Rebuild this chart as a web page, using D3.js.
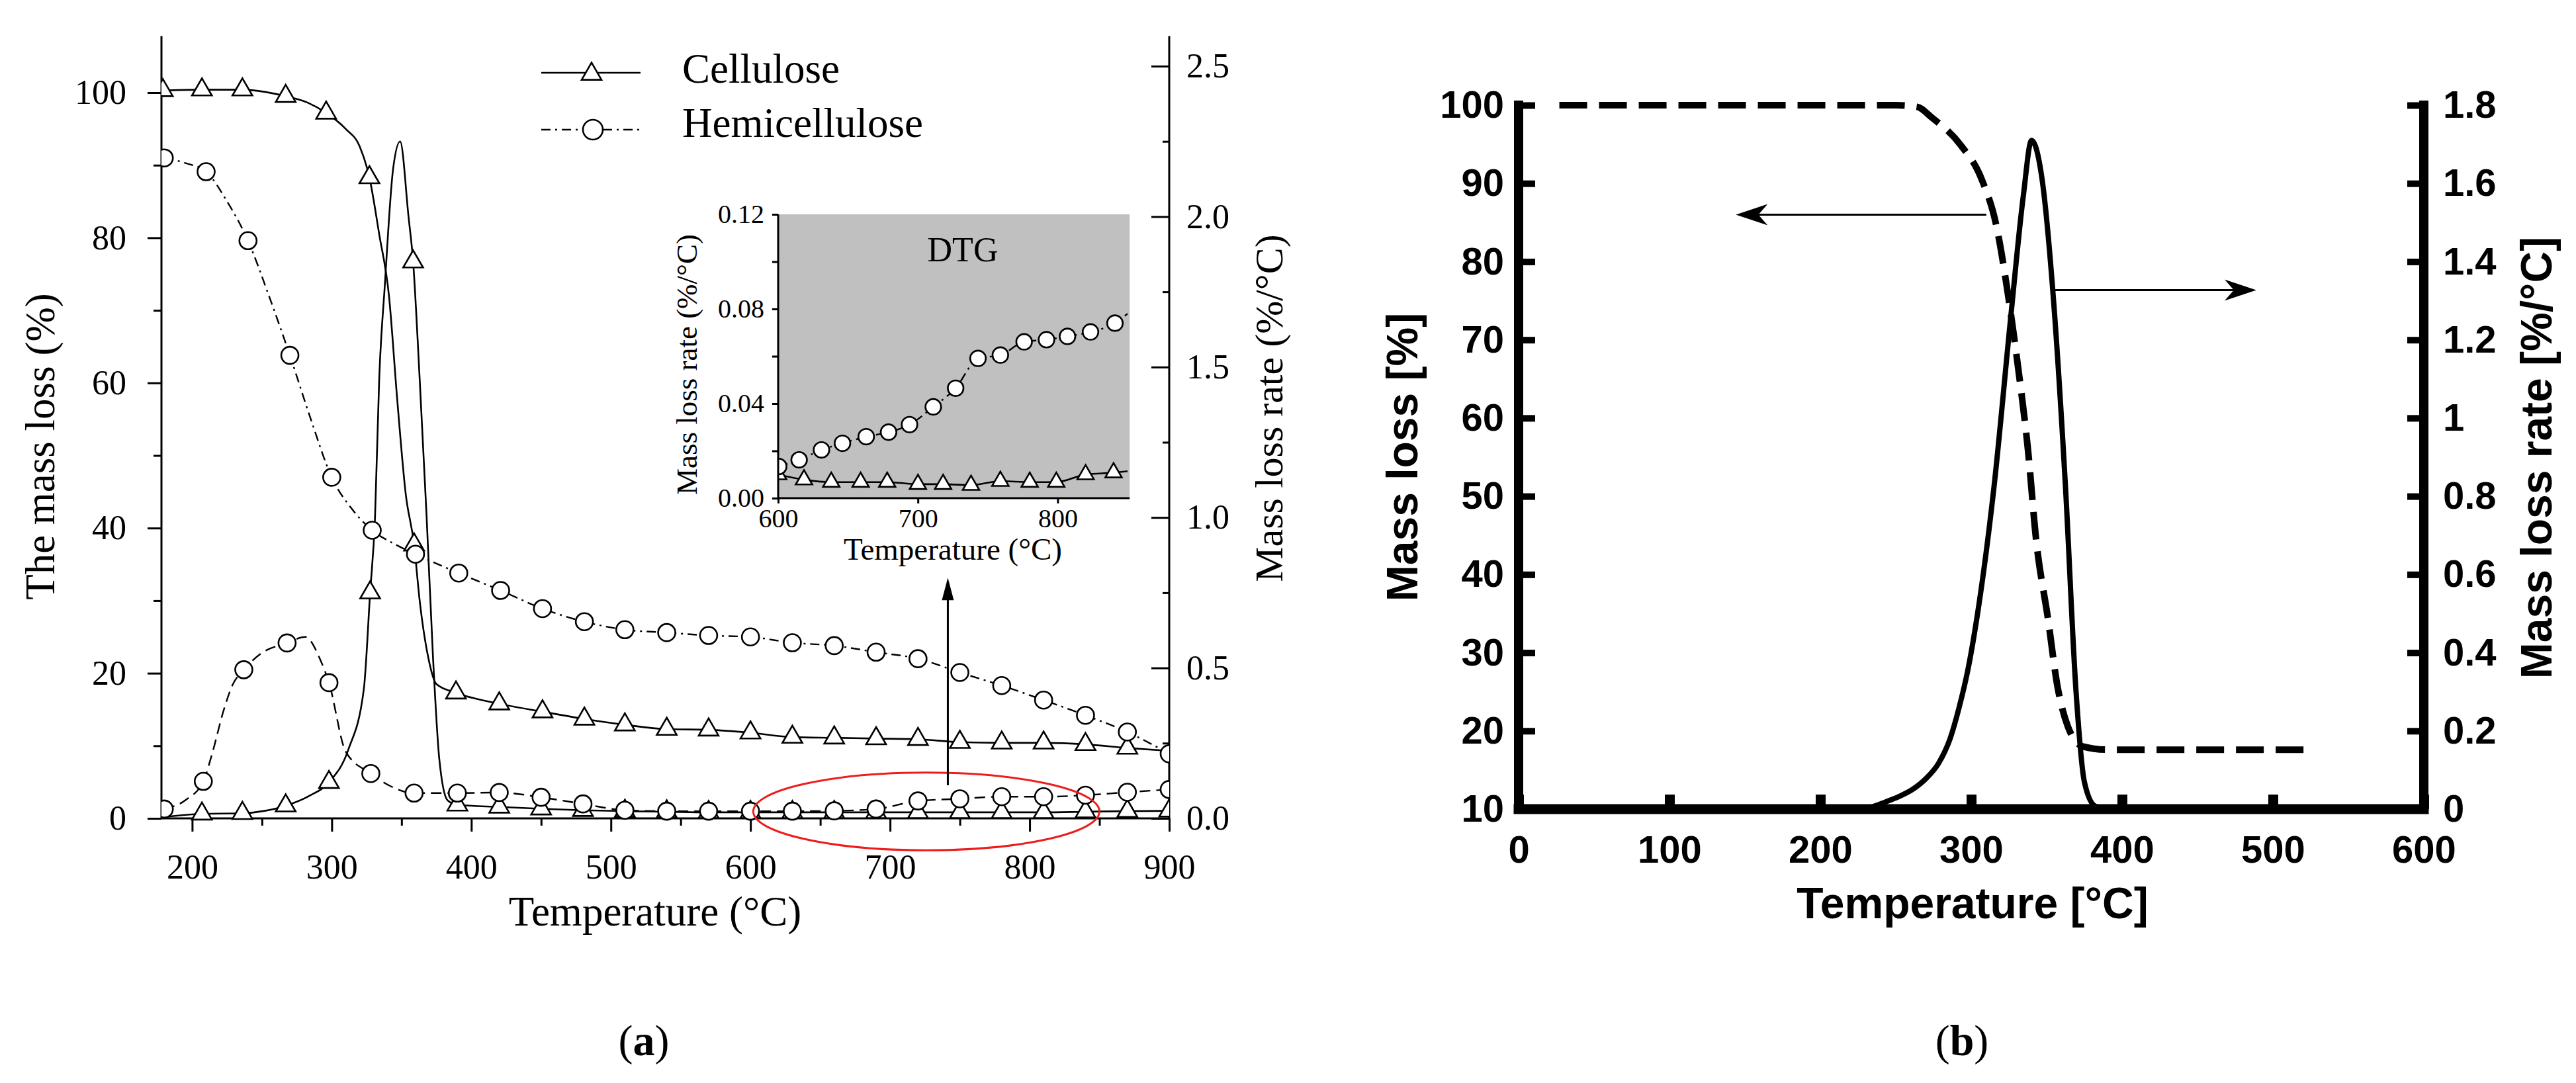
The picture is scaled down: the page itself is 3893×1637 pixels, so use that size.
<!DOCTYPE html>
<html><head><meta charset="utf-8">
<script src="https://cdn.jsdelivr.net/npm/d3@7"></script>
<style>html,body{margin:0;padding:0;background:#fff;} svg{display:block;}</style>
</head><body>
<svg id="chart" width="3893" height="1637"></svg>
<script>
// ================= DATA =================
// Panel (a): [temperature °C, value, marker?]
const celluloseTG = [[179,100.3,1],[207,100.4,1],[236,100.4,1],[252,100.1,0],[267,99.5,1],[283,98.6,0],[296,97.2,1],[310,95.0,0],[320,92.6,0],[327,88.3,1],[334,80.5,0],[341,72.0,0],[347,57.5,0],[353,44.7,0],[359,37.7,1],[363,30.0,0],[369,22.3,0],[375,18.5,0],[389,17.3,1],[420,15.8,1],[451,14.7,1],[481,13.7,1],[510,12.9,1],[540,12.3,1],[570,12.2,1],[600,11.8,1],[630,11.2,1],[660,11.1,1],[690,11.0,1],[720,10.9,1],[750,10.5,1],[780,10.4,1],[810,10.4,1],[840,10.2,1],[870,9.7,1],[900,9.3,0]];
const celluloseDTG = [[179,0.004,0],[207,0.015,1],[236,0.017,1],[252,0.025,0],[267,0.042,1],[284,0.075,0],[298,0.12,1],[312,0.23,0],[323,0.43,0],[327.5,0.75,1],[331,1.0,0],[334,1.46,0],[338,1.77,0],[344,2.16,0],[349,2.25,0],[355,2.0,0],[358.3,1.85,1],[363,1.46,0],[368,1.0,0],[372.5,0.54,0],[377,0.2,0],[383,0.06,0],[390,0.045,1],[420,0.038,1],[450,0.032,1],[480,0.027,1],[510,0.024,1],[540,0.022,1],[570,0.02,1],[600,0.02,1],[630,0.02,1],[660,0.02,1],[690,0.02,1],[720,0.02,1],[750,0.02,1],[780,0.02,1],[810,0.02,1],[840,0.022,1],[870,0.024,1],[900,0.025,1]];
const hemiTG = [[180,91.0,1],[195,90.3,0],[210,89.1,1],[225,85.0,0],[240,79.6,1],[255,72.0,0],[270,63.8,1],[285,55.0,0],[300,47.0,1],[315,42.5,0],[329,39.7,1],[345,37.8,0],[360,36.4,1],[391,33.8,1],[421,31.4,1],[451,28.9,1],[481,27.1,1],[510,26.0,1],[540,25.6,1],[570,25.2,1],[600,25.0,1],[630,24.2,1],[660,23.8,1],[690,22.9,1],[720,22.0,1],[750,20.1,1],[780,18.3,1],[810,16.3,1],[840,14.2,1],[870,11.9,1],[900,8.9,1]];
const hemiDTG = [[180,0.031,1],[195,0.06,0],[208,0.123,1],[214,0.21,0],[223,0.366,0],[229,0.444,0],[237,0.494,1],[250,0.55,0],[268,0.583,1],[281,0.603,0],[292,0.525,0],[298,0.451,1],[310,0.222,0],[328,0.149,1],[343,0.105,0],[359,0.084,1],[390,0.084,1],[420,0.086,1],[450,0.07,1],[480,0.048,1],[510,0.027,1],[540,0.024,1],[570,0.024,1],[600,0.024,1],[630,0.024,1],[660,0.025,1],[690,0.031,1],[720,0.058,1],[750,0.065,1],[780,0.072,1],[810,0.072,1],[840,0.077,1],[870,0.087,1],[900,0.096,1]];
// Inset (DTG, 600-850 °C)
const insetHemi = [[600.4,0.0134,1],[615,0.0162,1],[631,0.0204,1],[646,0.0232,1],[663,0.0260,1],[679,0.0279,1],[694,0.0311,1],[711,0.0386,1],[727,0.0465,1],[743,0.0591,1],[759,0.0605,1],[776,0.0661,1],[792,0.0670,1],[807,0.0684,1],[823.5,0.0703,1],[841,0.0740,1],[850,0.0780,0]];
const insetCell = [[600,0.0100,1],[618.5,0.0078,1],[638,0.0068,1],[659,0.0068,1],[678,0.0068,1],[700,0.0059,1],[718,0.0059,1],[738,0.0055,1],[759,0.0072,1],[780,0.0068,1],[799,0.0068,1],[820,0.0100,1],[840,0.0108,1],[850,0.0114,0]];
// Panel (b)
const bMassLoss = [[27,100],[100,100],[200,100],[250,100],[264,99.8],[274,98.4],[293,94.9],[307,90.5],[317,84.3],[324,76.3],[331,66.6],[337.6,56],[343,44.5],[351,34.2],[357,25.9],[364,20.6],[374,18],[390,17.6],[526,17.6]];
const bRate = [[200,0],[225,0],[233,0.004],[243,0.018],[252,0.032],[261,0.05],[270,0.078],[278.5,0.118],[286,0.18],[292,0.26],[298,0.36],[305,0.52],[315,0.82],[326,1.25],[334.6,1.57],[340,1.71],[347,1.61],[354,1.33],[362.4,0.83],[369.5,0.30],[375,0.07],[382,0.008],[390,0]];

// Tick labels
const aXTicks = [200,300,400,500,600,700,800,900];
const aXMinor = [250,350,450,550,650,750,850];
const aYTicks = [0,20,40,60,80,100];
const aYMinor = [10,30,50,70,90];
const aY2Ticks = [0,0.5,1.0,1.5,2.0,2.5];
const aY2Minor = [0.25,0.75,1.25,1.75,2.25];
const inXTicks = [600,700,800];
const inYTicks = [0,0.04,0.08,0.12];
const inYMinor = [0.02,0.06,0.10];
const bXTicks = [0,100,200,300,400,500,600];
const bYTicks = [10,20,30,40,50,60,70,80,90,100];
const bY2Ticks = [0,0.2,0.4,0.6,0.8,1,1.2,1.4,1.6,1.8];

// Annotations (data coordinates)
const aEllipse = {cx:726, rx:124, cy:0.023, ry:0.129};
const aArrow = {t:741.4, from:0.11, to:0.80};
const bArrows = [{from:[310,86],to:[144,86],axis:'L'},{from:[354,1.327],to:[489,1.327],axis:'R'}];

// ================= DRAW =================
const svg = d3.select('#chart');
const SERIF = '"Liberation Serif","Times New Roman",Times,serif';
const SANS = '"Liberation Sans",Arial,Helvetica,sans-serif';
function styleAxis(g, w, font, size, weight){
  g.select('.domain').remove();
  g.selectAll('line').attr('stroke','#000').attr('stroke-width',w);
  g.selectAll('text').attr('fill','#000').attr('font-family',font).attr('font-size',size).attr('font-weight',weight||'normal');
}

// ---------- Panel (a) ----------
const A_YTOP = 107.8, A_XMIN = 178, A_XMAX = 900;
const xA = d3.scaleLinear().domain([A_XMIN, A_XMAX]).range([244, 1767]);
const yA = d3.scaleLinear().domain([0, 100]).range([1237, 140]);
const yA2 = d3.scaleLinear().domain([0, 2.5]).range([1237, 100]);
const gA = svg.append('g');

gA.append('g').attr('transform',`translate(0,${yA(0)})`)
  .call(d3.axisBottom(xA).tickValues(aXTicks).tickSizeInner(20).tickSizeOuter(0).tickPadding(34).tickFormat(d3.format('d')))
  .call(g=>styleAxis(g,3,SERIF,52));
gA.append('g').attr('transform',`translate(0,${yA(0)})`)
  .call(d3.axisBottom(xA).tickValues(aXMinor).tickSizeInner(11).tickSizeOuter(0).tickFormat(''))
  .call(g=>styleAxis(g,3,SERIF,52));
gA.append('g').attr('transform',`translate(${xA(A_XMIN)},0)`)
  .call(d3.axisLeft(yA).tickValues(aYTicks).tickSizeInner(21).tickSizeOuter(0).tickPadding(32).tickFormat(d3.format('d')))
  .call(g=>styleAxis(g,3,SERIF,52));
gA.append('g').attr('transform',`translate(${xA(A_XMIN)},0)`)
  .call(d3.axisLeft(yA).tickValues(aYMinor).tickSizeInner(12).tickSizeOuter(0).tickFormat(''))
  .call(g=>styleAxis(g,3,SERIF,52));
gA.append('g').attr('transform',`translate(${xA(A_XMAX)},0)`)
  .call(d3.axisRight(yA2).tickValues(aY2Ticks).tickSizeInner(-27).tickSizeOuter(0).tickPadding(26).tickFormat(d3.format('.1f')))
  .call(g=>styleAxis(g,3,SERIF,52));
gA.append('g').attr('transform',`translate(${xA(A_XMAX)},0)`)
  .call(d3.axisRight(yA2).tickValues(aY2Minor).tickSizeInner(-10).tickSizeOuter(0).tickFormat(''))
  .call(g=>styleAxis(g,3,SERIF,52));
gA.append('line').attr('x1',xA(A_XMIN)).attr('x2',xA(A_XMIN)).attr('y1',yA(0)).attr('y2',yA(A_YTOP)).attr('stroke','#000').attr('stroke-width',3);
gA.append('line').attr('x1',xA(A_XMAX)).attr('x2',xA(A_XMAX)).attr('y1',yA(0)).attr('y2',yA(A_YTOP)).attr('stroke','#000').attr('stroke-width',3);
gA.append('line').attr('x1',xA(A_XMIN)).attr('x2',xA(A_XMAX)).attr('y1',yA(0)).attr('y2',yA(0)).attr('stroke','#000').attr('stroke-width',3);

gA.append('text').attr('transform',`translate(82,675) rotate(-90)`).attr('text-anchor','middle')
  .attr('font-family',SERIF).attr('font-size',63).text('The mass loss (%)');
gA.append('text').attr('transform',`translate(1938,617) rotate(-90)`).attr('text-anchor','middle')
  .attr('font-family',SERIF).attr('font-size',60).text('Mass loss rate (%/°C)');
gA.append('text').attr('x',990).attr('y',1399).attr('text-anchor','middle')
  .attr('font-family',SERIF).attr('font-size',63).text('Temperature (°C)');

svg.append('clipPath').attr('id','clipA').append('rect')
  .attr('x',xA(A_XMIN)).attr('y',0).attr('width',xA(A_XMAX)-xA(A_XMIN)).attr('height',yA(0)+8);
const plotA = gA.append('g').attr('clip-path','url(#clipA)');
const lineL = d3.line().x(d=>xA(d[0])).y(d=>yA(d[1])).curve(d3.curveMonotoneX);
const lineR = d3.line().x(d=>xA(d[0])).y(d=>yA2(d[1])).curve(d3.curveMonotoneX);
const DASHDOT = '14,7,3,7', DASHED = '16,9';
const TRI = d3.symbol().type(d3.symbolTriangle).size(390)();
const CIRC = d3.symbol().type(d3.symbolCircle).size(531)();

plotA.append('path').attr('d',lineL(celluloseTG)).attr('fill','none').attr('stroke','#000').attr('stroke-width',2.6);
plotA.append('path').attr('d',lineR(celluloseDTG)).attr('fill','none').attr('stroke','#000').attr('stroke-width',2.6);
plotA.append('path').attr('d',lineL(hemiTG)).attr('fill','none').attr('stroke','#000').attr('stroke-width',2.4).attr('stroke-dasharray',DASHDOT);
plotA.append('path').attr('d',lineR(hemiDTG)).attr('fill','none').attr('stroke','#000').attr('stroke-width',2.4).attr('stroke-dasharray',DASHED);

function markers(g, data, sym, xs, ys){
  g.selectAll(null).data(data.filter(d=>d[2])).join('path').attr('d',sym)
    .attr('transform',d=>`translate(${xs(d[0])},${ys(d[1])})`)
    .attr('fill','#fff').attr('stroke','#000').attr('stroke-width',2.6);
}
markers(plotA, celluloseDTG, TRI, xA, yA2);
markers(plotA, hemiDTG, CIRC, xA, yA2);
markers(plotA, celluloseTG, TRI, xA, yA);
markers(plotA, hemiTG, CIRC, xA, yA);

// legend
const leg = gA.append('g');
leg.append('line').attr('x1',818).attr('x2',968).attr('y1',110).attr('y2',110).attr('stroke','#000').attr('stroke-width',2.6);
leg.append('path').attr('d',TRI).attr('transform','translate(894,112)').attr('fill','#fff').attr('stroke','#000').attr('stroke-width',2.6);
leg.append('line').attr('x1',818).attr('x2',968).attr('y1',196).attr('y2',196).attr('stroke','#000').attr('stroke-width',2.4).attr('stroke-dasharray',DASHDOT);
leg.append('circle').attr('cx',896).attr('cy',196).attr('r',15).attr('fill','#fff').attr('stroke','#000').attr('stroke-width',2.6);
leg.append('text').attr('x',1031).attr('y',125).attr('font-family',SERIF).attr('font-size',63).text('Cellulose');
leg.append('text').attr('x',1031).attr('y',207).attr('font-family',SERIF).attr('font-size',63).text('Hemicellulose');

// inset
const IN_XMAX = 851.5;
const xI = d3.scaleLinear().domain([600, 850]).range([1176, 1704]);
const yI = d3.scaleLinear().domain([0, 0.12]).range([753, 324]);
const gI = gA.append('g');
gI.append('rect').attr('x',xI(600)).attr('y',yI(0.12)).attr('width',xI(IN_XMAX)-xI(600)).attr('height',yI(0)-yI(0.12)).attr('fill','#c0c0c0');
svg.append('clipPath').attr('id','clipI').append('rect')
  .attr('x',xI(600)).attr('y',yI(0.12)).attr('width',xI(IN_XMAX)-xI(600)).attr('height',yI(0)-yI(0.12));
const plotI = gI.append('g').attr('clip-path','url(#clipI)');
const lineI = d3.line().x(d=>xI(d[0])).y(d=>yI(d[1])).curve(d3.curveMonotoneX);
plotI.append('path').attr('d',lineI(insetCell)).attr('fill','none').attr('stroke','#000').attr('stroke-width',2.6);
plotI.append('path').attr('d',lineI(insetHemi)).attr('fill','none').attr('stroke','#000').attr('stroke-width',2.4).attr('stroke-dasharray',DASHDOT);
const TRI_I = d3.symbol().type(d3.symbolTriangle).size(270)();
const CIRC_I = d3.symbol().type(d3.symbolCircle).size(440)();
markers(plotI, insetCell, TRI_I, xI, yI);
markers(plotI, insetHemi, CIRC_I, xI, yI);
gI.append('g').attr('transform',`translate(${xI(600)},0)`)
  .call(d3.axisLeft(yI).tickValues(inYTicks).tickSizeInner(9).tickSizeOuter(0).tickPadding(12).tickFormat(d3.format('.2f')))
  .call(g=>styleAxis(g,3,SERIF,40));
gI.append('g').attr('transform',`translate(${xI(600)},0)`)
  .call(d3.axisLeft(yI).tickValues(inYMinor).tickSizeInner(9).tickSizeOuter(0).tickFormat(''))
  .call(g=>styleAxis(g,3,SERIF,40));
gI.append('g').attr('transform',`translate(0,${yI(0)})`)
  .call(d3.axisBottom(xI).tickValues(inXTicks).tickSizeInner(8).tickSizeOuter(0).tickPadding(8).tickFormat(d3.format('d')))
  .call(g=>styleAxis(g,3,SERIF,40));
gI.append('line').attr('x1',xI(600)).attr('x2',xI(600)).attr('y1',yI(0)).attr('y2',yI(0.12)).attr('stroke','#000').attr('stroke-width',3);
gI.append('line').attr('x1',xI(600)).attr('x2',xI(IN_XMAX)).attr('y1',yI(0)).attr('y2',yI(0)).attr('stroke','#000').attr('stroke-width',3);
gI.append('text').attr('x',1455).attr('y',395).attr('text-anchor','middle').attr('font-family',SERIF).attr('font-size',52).text('DTG');
gI.append('text').attr('transform','translate(1053,551) rotate(-90)').attr('text-anchor','middle').attr('font-family',SERIF).attr('font-size',45).text('Mass loss rate (%/°C)');
gI.append('text').attr('x',1440).attr('y',846).attr('text-anchor','middle').attr('font-family',SERIF).attr('font-size',47).text('Temperature (°C)');

// annotations (a)
gA.append('ellipse').attr('cx',xA(aEllipse.cx)).attr('cy',yA2(aEllipse.cy))
  .attr('rx',xA(aEllipse.cx+aEllipse.rx)-xA(aEllipse.cx)).attr('ry',yA2(0)-yA2(aEllipse.ry))
  .attr('fill','none').attr('stroke','#ee1c1c').attr('stroke-width',3);
const axX = xA(aArrow.t), ay1 = yA2(aArrow.from), ay2 = yA2(aArrow.to);
gA.append('line').attr('x1',axX).attr('x2',axX).attr('y1',ay1).attr('y2',ay2+30).attr('stroke','#000').attr('stroke-width',3);
gA.append('path').attr('d',`M${axX},${ay2} L${axX-9},${ay2+34} L${axX+9},${ay2+34} Z`).attr('fill','#000');

gA.append('text').attr('x',973).attr('y',1595).attr('text-anchor','middle').attr('font-family',SERIF).attr('font-size',66)
  .call(t=>{t.append('tspan').text('('); t.append('tspan').attr('font-weight','bold').text('a'); t.append('tspan').text(')');});

// ---------- Panel (b) ----------
const xB = d3.scaleLinear().domain([0, 600]).range([2295, 3663]);
const yB = d3.scaleLinear().domain([10, 100]).range([1223, 159]);
const yB2 = d3.scaleLinear().domain([0, 1.8]).range([1223, 159]);
const gB = svg.append('g');

gB.append('g').attr('transform',`translate(0,${yB(10)})`)
  .call(d3.axisBottom(xB).tickValues(bXTicks).tickSizeInner(-22).tickSizeOuter(0).tickPadding(40).tickFormat(d3.format('d')))
  .call(g=>styleAxis(g,15,SANS,58,'bold'));
gB.append('g').attr('transform',`translate(${xB(0)},0)`)
  .call(d3.axisLeft(yB).tickValues(bYTicks).tickSizeInner(-25).tickSizeOuter(0).tickPadding(22).tickFormat(d3.format('d')))
  .call(g=>styleAxis(g,10,SANS,58,'bold'));
gB.append('g').attr('transform',`translate(${xB(600)},0)`)
  .call(d3.axisRight(yB2).tickValues(bY2Ticks).tickSizeInner(-25).tickSizeOuter(0).tickPadding(29).tickFormat(d3.format('~g')))
  .call(g=>styleAxis(g,10,SANS,58,'bold'));
gB.append('line').attr('x1',xB(0)).attr('x2',xB(0)).attr('y1',yB(10)).attr('y2',yB(100)).attr('stroke','#000').attr('stroke-width',14).attr('stroke-linecap','square');
gB.append('line').attr('x1',xB(600)).attr('x2',xB(600)).attr('y1',yB(10)).attr('y2',yB(100)).attr('stroke','#000').attr('stroke-width',14).attr('stroke-linecap','square');
gB.append('line').attr('x1',xB(0)).attr('x2',xB(600)).attr('y1',yB(10)).attr('y2',yB(10)).attr('stroke','#000').attr('stroke-width',15).attr('stroke-linecap','square');

const lineBL = d3.line().x(d=>xB(d[0])).y(d=>yB(d[1])).curve(d3.curveMonotoneX);
const lineBR = d3.line().x(d=>xB(d[0])).y(d=>yB2(d[1])).curve(d3.curveMonotoneX);
gB.append('path').attr('d',lineBR(bRate)).attr('fill','none').attr('stroke','#000').attr('stroke-width',8);
gB.append('path').attr('d',lineBL(bMassLoss)).attr('fill','none').attr('stroke','#000').attr('stroke-width',10).attr('stroke-dasharray','42,18');

bArrows.forEach(a=>{
  const ys = a.axis==='L' ? yB : yB2;
  const x1 = xB(a.from[0]), y1 = ys(a.from[1]), x2 = xB(a.to[0]), y2 = ys(a.to[1]);
  const dir = Math.sign(x2 - x1);
  gB.append('line').attr('x1',x1).attr('y1',y1).attr('x2',x2 - dir*20).attr('y2',y2).attr('stroke','#000').attr('stroke-width',3);
  gB.append('path').attr('d',`M${x2},${y2} L${x2-dir*48},${y2-16} L${x2-dir*34},${y2} L${x2-dir*48},${y2+16} Z`).attr('fill','#000');
});

gB.append('text').attr('x',2981).attr('y',1388).attr('text-anchor','middle').attr('font-family',SANS).attr('font-weight','bold').attr('font-size',66).text('Temperature [°C]');
gB.append('text').attr('transform','translate(2142,691) rotate(-90)').attr('text-anchor','middle').attr('font-family',SANS).attr('font-weight','bold').attr('font-size',66).text('Mass loss [%]');
gB.append('text').attr('transform','translate(3856,692) rotate(-90)').attr('text-anchor','middle').attr('font-family',SANS).attr('font-weight','bold').attr('font-size',66).text('Mass loss rate [%/°C]');

gB.append('text').attr('x',2965).attr('y',1595).attr('text-anchor','middle').attr('font-family',SERIF).attr('font-size',66)
  .call(t=>{t.append('tspan').text('('); t.append('tspan').attr('font-weight','bold').text('b'); t.append('tspan').text(')');});
</script>
</body></html>
